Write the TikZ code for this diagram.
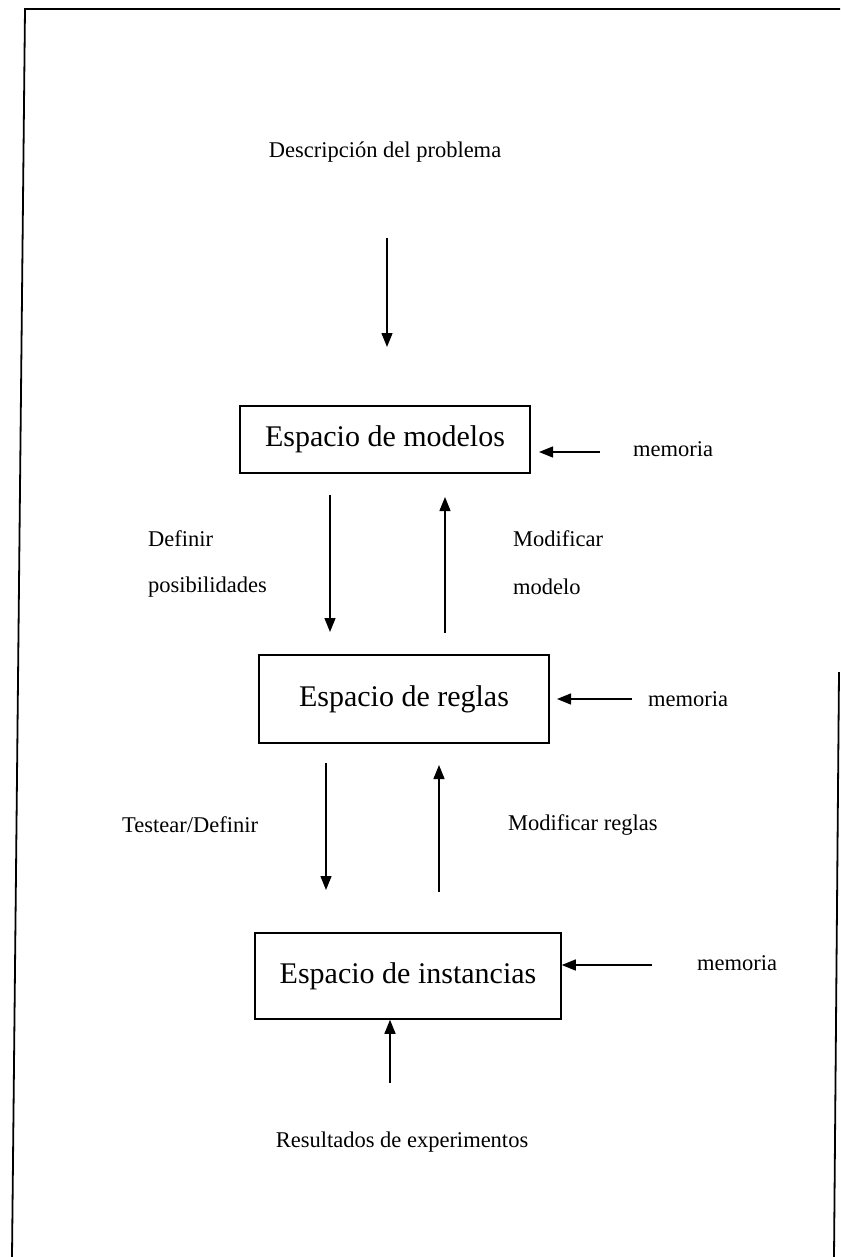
\documentclass[tikz,border=0pt]{standalone}
\usepackage{fontspec}
\setmainfont{Liberation Serif}
\usetikzlibrary{arrows.meta}
\begin{document}
\begin{tikzpicture}[x=1pt,y=-1pt,
  boxnode/.style={draw,line width=1.5pt,inner sep=0pt,font=\fontsize{30}{36}\selectfont},
  lbl/.style={inner sep=0pt,font=\fontsize{22.5}{27}\selectfont},
  conn/.style={line width=1.3pt,-{Triangle[length=14pt,width=11pt]}},
  frame/.style={line width=1.8pt}]
\useasboundingbox (0,0) rectangle (840,1257);
% frame
\draw[frame] (12,1257) -- (25,9) -- (840,9);
\draw[frame] (839,672) -- (834,1257);
% boxes
\node[boxnode,minimum width=290pt,minimum height=67pt] (box1) at (385,439.5) {Espacio de modelos};
\node[boxnode,minimum width=290pt,minimum height=88pt] (box2) at (404,699) {Espacio de reglas\hspace{28pt}};
\node[boxnode,minimum width=306pt,minimum height=86pt] (box3) at (408,976) {Espacio de instancias};
% labels
\node[lbl] (desc) at (385,152) {Descripción del problema};
\node[lbl] (mem1) at (673,449) {memoria};
\node[lbl] (mem2) at (688,699) {memoria};
\node[lbl] (mem3) at (737,963) {memoria};
\node[lbl,anchor=west] (def1) at (148,539) {Definir};
\node[lbl,anchor=west] (def2) at (148,587) {posibilidades};
\node[lbl,anchor=west] (mod1) at (513,539) {Modificar};
\node[lbl,anchor=west] (mod2) at (513,587) {modelo};
\node[lbl,anchor=west] (test) at (122,825) {Testear/Definir};
\node[lbl,anchor=west] (modr) at (508,825) {Modificar reglas};
\node[lbl] (res) at (402,1142) {Resultados de experimentos};
% connector end points
\coordinate (a1s) at (387,238);  \coordinate (a1e) at (387,347);
\coordinate (d1s) at (330,495);  \coordinate (d1e) at (330,632);
\coordinate (u1s) at (445,633);  \coordinate (u1e) at (445,497);
\coordinate (d2s) at (326,763);  \coordinate (d2e) at (326,890);
\coordinate (u2s) at (439,892);  \coordinate (u2e) at (439,765);
\coordinate (m1s) at (600,452);  \coordinate (m1e) at (539,452);
\coordinate (m2s) at (632,699);  \coordinate (m2e) at (557,699);
\coordinate (m3s) at (652,965);
\coordinate (u3s) at (390,1083);
% connectors
\draw[conn] (a1s) -- (a1e);
\draw[conn] (d1s) -- (d1e);
\draw[conn] (u1s) -- (u1e);
\draw[conn] (d2s) -- (d2e);
\draw[conn] (u2s) -- (u2e);
\draw[conn] (m1s) -- (m1e);
\draw[conn] (m2s) -- (m2e);
\draw[conn] (m3s) -- (m3s -| box3.east);
\draw[conn] (u3s) -- (u3s |- box3.south);
\end{tikzpicture}
\end{document}
